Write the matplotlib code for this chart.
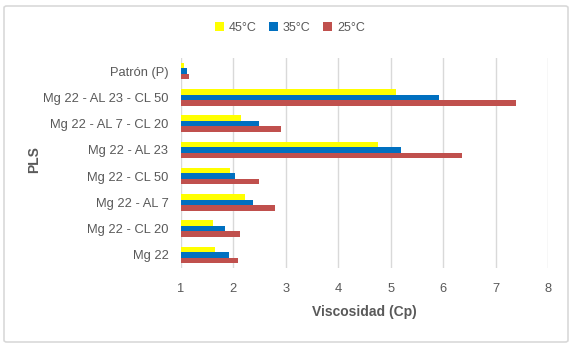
import matplotlib
matplotlib.use("Agg")
import matplotlib.pyplot as plt
from matplotlib.patches import FancyBboxPatch
import numpy as np

categories = ["Mg 22", "Mg 22 - CL 20", "Mg 22 - AL 7", "Mg 22 - CL 50",
              "Mg 22 - AL 23", "Mg 22 - AL 7 - CL 20", "Mg 22 - AL 23 - CL 50", "Patrón (P)"]
v45 = [1.64, 1.61, 2.22, 1.93, 4.76, 2.15, 5.10, 1.05]
v35 = [1.91, 1.84, 2.38, 2.03, 5.20, 2.49, 5.92, 1.11]
v25 = [2.08, 2.12, 2.79, 2.49, 6.36, 2.90, 7.39, 1.15]
series_names = ["45°C", "35°C", "25°C"]
colors = ["#FFFF00", "#0070C0", "#C0504D"]

plt.rcParams['font.family'] = ['Liberation Sans', 'DejaVu Sans']

fig = plt.figure(figsize=(5.75, 3.46), dpi=100)
border = FancyBboxPatch((4/575, 4/346), 564/575, 336/346,
                        boxstyle="round,pad=0,rounding_size=0.005",
                        transform=fig.transFigure, fill=False,
                        edgecolor="#d9d9d9", linewidth=1.2)
fig.patches.append(border)

ax = fig.add_axes([181/575, (346-268)/346, (548-181)/575, (268-58)/346])
y = np.arange(len(categories))
h = 0.21
base = 1
for i, (vals, c, n) in enumerate(zip([v45, v35, v25], colors, series_names)):
    ax.barh(y + (1 - i) * h, np.array(vals) - base, left=base, height=h,
            color=c, label=n, zorder=3)

ax.set_xlim(1, 8)
ax.set_ylim(-0.5, len(categories) - 0.5)
ax.set_xticks(range(1, 9))
ax.set_yticks(y)
ax.set_yticklabels(categories)
ax.grid(axis='x', color='#d9d9d9', linewidth=1, zorder=0)
for s in ax.spines.values():
    s.set_visible(False)
ax.tick_params(axis='both', length=0, colors='#595959', labelsize=9.3)
ax.tick_params(axis='x', pad=11)
ax.tick_params(axis='y', pad=9)

ax.set_xlabel("Viscosidad (Cp)", fontsize=10, fontweight='bold', color='#595959', labelpad=7)
fig.text(34/575, 1 - 160/346, "PLS", rotation=90, fontsize=10, fontweight='bold',
         color='#595959', ha='center', va='center')

fig.legend(loc='center', bbox_to_anchor=(290/575, 1 - 28/346), ncol=3, frameon=False,
           fontsize=9, handlelength=0.7, handleheight=0.7, columnspacing=1.0,
           handletextpad=0.4, labelcolor='#595959')

fig.savefig("out.png", dpi=100)
